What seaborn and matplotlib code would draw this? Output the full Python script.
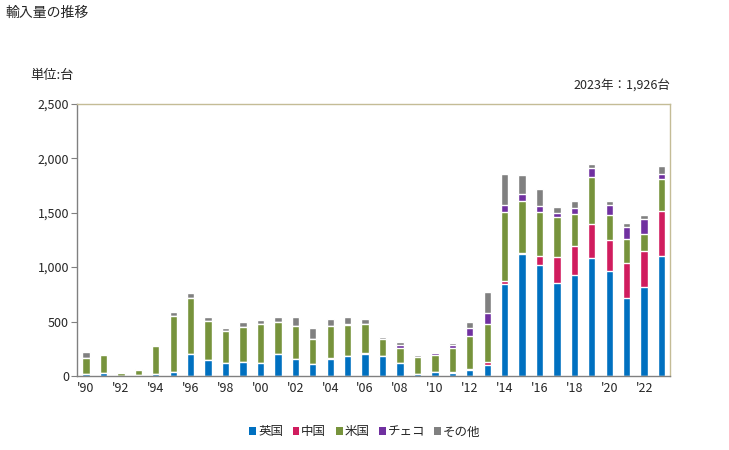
import numpy as np
import pandas as pd
import matplotlib
matplotlib.use("Agg")
import matplotlib.pyplot as plt
import seaborn as sns
from matplotlib.patches import Patch

years = list(range(1990, 2024))
uk = [18, 27, 0, 9, 18, 40, 201, 147, 119, 131, 119, 201, 156, 110, 156, 183, 205,
      183, 119, 18, 37, 27, 55, 98, 843, 1117, 1017, 852, 925, 1081, 962, 717, 815, 1099]
cn = [0, 0, 0, 0, 0, 0, 0, 0, 0, 0, 0, 0, 0, 0, 9, 0, 9,
      0, 0, 0, 0, 13, 9, 33, 27, 13, 82, 238, 266, 311, 284, 318, 330, 412]
us = [150, 162, 27, 49, 257, 510, 513, 354, 290, 318, 357, 294, 302, 229, 293, 284, 268,
      153, 137, 156, 155, 216, 302, 345, 632, 473, 403, 366, 293, 431, 229, 220, 156, 293]
cz = [0, 0, 0, 0, 0, 0, 0, 0, 0, 0, 0, 0, 0, 0, 0, 9, 0,
      0, 28, 0, 16, 28, 74, 101, 64, 64, 55, 37, 55, 91, 91, 110, 137, 55]
other = [55, 12, 10, 6, 9, 36, 46, 39, 31, 46, 37, 45, 82, 101, 64, 64, 40,
         21, 27, 18, 12, 21, 55, 192, 284, 174, 156, 55, 64, 28, 37, 36, 37, 67]

series_names = ["英国", "中国", "米国", "チェコ", "その他"]
colors = ["#0070C0", "#D01C5E", "#77933C", "#7030A0", "#808080"]
labels = [("'" + str(y)[2:]) if y % 2 == 0 else "" for y in years]

sns.set_theme(style="white")
plt.rcParams['font.family'] = ['Noto Sans CJK JP', 'DejaVu Sans']

df = pd.DataFrame({"year": [str(y) for y in years], "英国": uk, "中国": cn,
                   "米国": us, "チェコ": cz, "その他": other})
cum = df[series_names].cumsum(axis=1)

fig = plt.figure(figsize=(7.29, 4.5), dpi=100)
ax = fig.add_axes([0.106, 0.1644, 0.8135, 0.6052])

for name, col in reversed(list(zip(series_names, colors))):
    sns.barplot(x=df["year"], y=cum[name], color=col, width=0.42,
                saturation=1, ax=ax, order=df["year"])

ax.set_xlim(-0.5, len(years) - 0.5)
ax.set_ylim(0, 2500)
ax.set_yticks([0, 500, 1000, 1500, 2000, 2500])
ax.set_yticklabels(["0", "500", "1,000", "1,500", "2,000", "2,500"], fontsize=9)
ax.set_xticks(range(len(years)))
ax.set_xticklabels(labels, fontsize=9)
ax.tick_params(axis="x", length=0, pad=4)
ax.tick_params(axis="y", length=4, width=0.8, color="#808080", left=True, pad=2)
ax.set_xlabel("")
ax.set_ylabel("")
ax.grid(False)
for s in ["left", "bottom"]:
    ax.spines[s].set_color("#808080")
    ax.spines[s].set_linewidth(1)
for s in ["top", "right"]:
    ax.spines[s].set_color("#C4BC96")
    ax.spines[s].set_linewidth(1)

fig.text(5/729, 1 - 13/450, "輸入量の推移", fontsize=10, va="center", ha="left")
fig.text(30/729, 1 - 75/450, "単位:台", fontsize=9.5, va="center", ha="left")
fig.text(670/729, 1 - 86/450, "2023年：1,926台", fontsize=9, va="center", ha="right")

handles = [Patch(facecolor=c, edgecolor="none") for c in colors]
fig.legend(handles, series_names, loc="center", bbox_to_anchor=(365/729, 1 - 432/450),
           ncol=5, frameon=False, fontsize=9, handlelength=0.55, handleheight=0.55,
           handletextpad=0.15, columnspacing=0.75)

fig.savefig("out.png", dpi=100)
